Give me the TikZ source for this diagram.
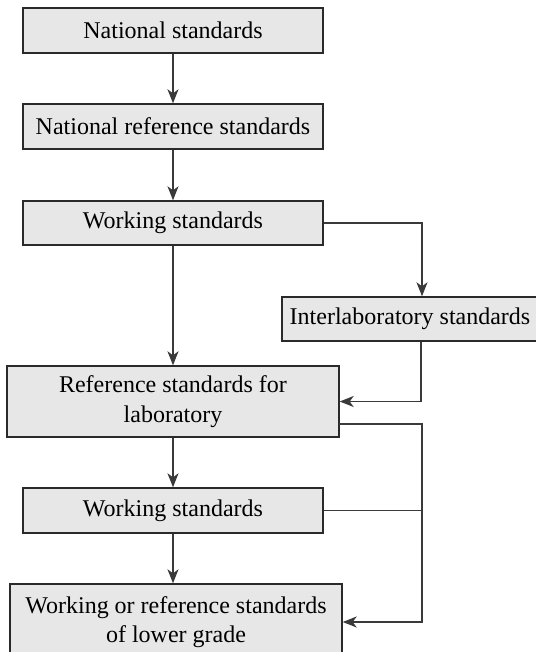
\documentclass[tikz,border=0pt]{standalone}
\usepackage{fontspec}
\setmainfont{Liberation Serif}
\usetikzlibrary{arrows.meta,calc}
\definecolor{boxfill}{HTML}{E7E7E7}
\definecolor{edge}{HTML}{2A2A2A}
\definecolor{wire}{HTML}{3A3A3A}
\begin{document}
\begin{tikzpicture}[x=1pt,y=-1pt,
  stdbox/.style={draw=edge,line width=1.4pt,fill=boxfill,text=black,
    font=\fontsize{24}{29.5}\selectfont,align=center,inner sep=0pt,
    minimum width=300pt,minimum height=45pt},
  conn/.style={draw=wire,line width=1.3pt,-{Stealth[length=14pt,width=11pt,inset=4pt]}},
  plain/.style={draw=wire,line width=1.3pt}]
\useasboundingbox (0,0) rectangle (535,652);
\node[stdbox] (b1) at (173,30.5) {National standards};
\node[stdbox] (b2) at (173,126.5) {National reference standards};
\node[stdbox,minimum height=44pt] (b3) at (173,223) {Working standards};
\node[stdbox,minimum width=256pt,minimum height=44pt] (inter) at (410,319) {Interlaboratory standards};
\node[stdbox,minimum width=332pt,minimum height=71pt] (ref) at (173,401.5) {Reference standards for\\laboratory};
\node[stdbox] (ws) at (173,510.5) {Working standards};
\node[stdbox,minimum width=332pt,minimum height=76pt] (low) at (176,622) {Working or reference standards\\of lower grade};
\coordinate (rx) at (422,0);
\coordinate (ix) at (421,0);
\coordinate (refout) at (339,424);
\draw[conn] (b1) -- (b2);
\draw[conn] (b2) -- (b3);
\draw[conn] (b3) -- (ref);
\draw[conn] (ref) -- (ws);
\draw[conn] (ws) -- (ws |- low.north);
\draw[conn] (b3.east) -| (rx |- inter.north);
\draw[conn] (ix |- inter.south) |- (ref.east);
\draw[conn] (refout) -| (rx |- low.east) -- (low.east);
\draw[plain] (ws.east) -- (rx |- ws.east);
\end{tikzpicture}
\end{document}
